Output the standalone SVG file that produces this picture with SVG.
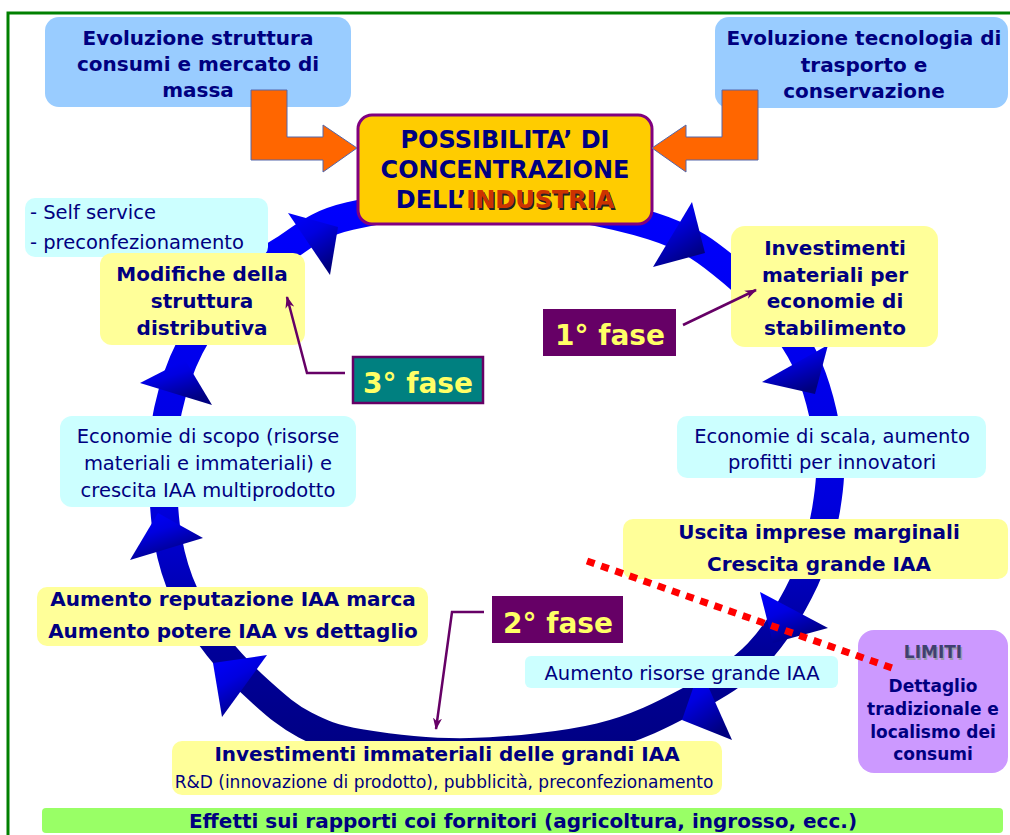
<svg xmlns="http://www.w3.org/2000/svg" width="1010" height="835" viewBox="0 0 1010 835">
  <defs>
    <style>
      .t { font-family: "DejaVu Sans", Verdana, sans-serif; fill: #000080; text-anchor: middle; }
      .b { font-weight: bold; font-size: 20px; }
      .r { font-weight: normal; font-size: 19.5px; }
      .small { font-weight: normal; font-size: 17px; }
      .lim { font-weight: bold; font-size: 17px; }
      .fase { font-family: "DejaVu Sans", Verdana, sans-serif; font-weight: bold; font-size: 28px; fill: #FFFF66; text-anchor: middle; }
      .yel { fill: #FFFF99; }
      .cyan { fill: #CCFFFF; }
      .sky { fill: #99CCFF; }
      .phase { fill: #660066; }
      .feed { fill: #FF6600; stroke: #5566AA; stroke-width: 1; }
      .link { fill: none; stroke: #660066; stroke-width: 2.5; marker-end: url(#tip); }
      .head { fill: url(#headGrad); }
    </style>
    <linearGradient id="ringGrad" gradientUnits="userSpaceOnUse" x1="0" y1="190" x2="0" y2="765">
      <stop offset="0" stop-color="#0000FF"/>
      <stop offset="0.55" stop-color="#0000DD"/>
      <stop offset="0.8" stop-color="#000099"/>
      <stop offset="1" stop-color="#000080"/>
    </linearGradient>
    <linearGradient id="headGrad" x1="0" y1="0" x2="0.5" y2="1">
      <stop offset="0" stop-color="#0000FF"/>
      <stop offset="0.45" stop-color="#0000E0"/>
      <stop offset="1" stop-color="#000080"/>
    </linearGradient>
    <marker id="tip" viewBox="0 0 12 10" refX="11" refY="5" markerWidth="12" markerHeight="10" markerUnits="userSpaceOnUse" orient="auto">
      <path d="M0,0.5 L12,5 L0,9.5 L3.5,5 Z" fill="#660066"/>
    </marker>
  </defs>

  <rect width="1010" height="835" fill="#FFFFFF"/>
  <!-- page frame -->
  <rect x="8" y="13" width="1020" height="840" fill="none" stroke="#008000" stroke-width="3"/>

  <!-- cycle band with arrowheads -->
  <g id="cycle-ring">
    <path fill="none" stroke="url(#ringGrad)" stroke-width="28" d="M500,200 C550.3,201.7 613.2,213.8 652,226 C690.8,238.2 708.3,252.3 733,273 C757.7,293.7 784.2,322.2 800,350 C815.8,377.8 823.7,413.3 828,440 C832.3,466.7 829.8,486.7 826,510 C822.2,533.3 816.3,556.2 805,580 C793.7,603.8 777.2,633 758,653 C738.8,673 716.3,686 690,700 C663.7,714 636.7,728.3 600,737 C563.3,745.7 510,751 470,752 C430,753 387.5,747.5 360,743 C332.5,738.5 321.3,733.3 305,725 C288.7,716.7 276.5,706 262,693 C247.5,680 230.8,663.3 218,647 C205.2,630.7 193.3,612.8 185,595 C176.7,577.2 171.7,560.8 168,540 C164.3,519.2 163,491.7 163,470 C163,448.3 163.5,430.5 168,410 C172.5,389.5 179.7,367 190,347 C200.3,327 214.5,306.2 230,290 C245.5,273.8 263,262.3 283,250 C303,237.7 313.8,224.3 350,216 C386.2,207.7 449.7,198.3 500,200 Z"/>
    <polygon class="head" points="288,213 338,227 330,275"/>
    <polygon class="head" points="692,202 705,253 653,267"/>
    <polygon class="head" points="828,345 815,394 762,382"/>
    <polygon class="head" points="760,592 828,628 773,643"/>
    <polygon class="head" points="700,668 732,740 682,720"/>
    <polygon class="head" points="267,655 222,717 213,663"/>
    <polygon class="head" points="203,538 130,560 158,513"/>
    <polygon class="head" points="212,405 140,383 185,360"/>
  </g>

  <g id="node-consumi">
    <rect class="sky" x="45" y="17" width="306" height="90" rx="14"/>
    <text class="t b" x="198" y="45">Evoluzione struttura</text>
    <text class="t b" x="198" y="71">consumi e mercato di</text>
    <text class="t b" x="198" y="97">massa</text>
  </g>

  <g id="node-trasporto">
    <rect class="sky" x="715" y="17" width="293" height="91" rx="14"/>
    <text class="t b" x="864" y="45">Evoluzione tecnologia di</text>
    <text class="t b" x="864" y="72">trasporto e</text>
    <text class="t b" x="864" y="98">conservazione</text>
  </g>

  <g id="node-concentrazione">
    <rect x="358" y="115" width="294" height="109" rx="14" fill="#FFCC00" stroke="#800080" stroke-width="3"/>
    <text class="t" font-weight="bold" font-size="24" x="505" y="148">POSSIBILITA’ DI</text>
    <text class="t" font-weight="bold" font-size="24" x="505" y="178">CONCENTRAZIONE</text>
    <text class="t" font-weight="bold" font-size="24" x="506.5" y="209.5"><tspan fill="none">DELL’</tspan><tspan fill="#222222">INDUSTRIA</tspan></text>
    <text class="t" font-weight="bold" font-size="24" x="505" y="208">DELL’<tspan fill="#CC3300">INDUSTRIA</tspan></text>
  </g>

  <g id="node-self-service">
    <rect class="cyan" x="25" y="198" width="243" height="59" rx="10"/>
    <text class="t r" text-anchor="start" style="text-anchor:start" x="30" y="219">- Self service</text>
    <text class="t r" style="text-anchor:start" x="30" y="249">- preconfezionamento</text>
  </g>

  <g id="node-modifiche">
    <rect class="yel" x="100" y="253" width="205" height="92" rx="12"/>
    <text class="t b" x="202" y="281">Modifiche della</text>
    <text class="t b" x="202" y="308">struttura</text>
    <text class="t b" x="202" y="335">distributiva</text>
  </g>

  <g id="node-investimenti-materiali">
    <rect class="yel" x="731" y="226" width="207" height="121" rx="14"/>
    <text class="t b" x="835" y="255">Investimenti</text>
    <text class="t b" x="835" y="282">materiali per</text>
    <text class="t b" x="835" y="308">economie di</text>
    <text class="t b" x="835" y="335">stabilimento</text>
  </g>

  <g id="node-fase1">
    <rect class="phase" x="543" y="309" width="133" height="47"/>
    <text class="fase" x="610" y="345">1° fase</text>
  </g>

  <g id="node-fase3">
    <rect x="353" y="357" width="130" height="46" fill="#008080" stroke="#660066" stroke-width="2.5"/>
    <text class="fase" x="418" y="393">3° fase</text>
  </g>

  <g id="node-scala">
    <rect class="cyan" x="677" y="416" width="309" height="62" rx="10"/>
    <text class="t r" x="832" y="443">Economie di scala, aumento</text>
    <text class="t r" x="832" y="469">profitti per innovatori</text>
  </g>

  <g id="node-scopo">
    <rect class="cyan" x="60" y="416" width="296" height="91" rx="12"/>
    <text class="t r" x="208" y="443">Economie di scopo (risorse</text>
    <text class="t r" x="208" y="470">materiali e immateriali) e</text>
    <text class="t r" x="208" y="497">crescita IAA multiprodotto</text>
  </g>

  <g id="node-uscita">
    <rect class="yel" x="623" y="519" width="385" height="60" rx="10"/>
    <text class="t b" x="819" y="539">Uscita imprese marginali</text>
    <text class="t b" x="819" y="571">Crescita grande IAA</text>
  </g>

  <g id="node-fase2">
    <rect class="phase" x="492" y="596" width="131" height="47"/>
    <text class="fase" x="558" y="633">2° fase</text>
  </g>

  <g id="node-reputazione">
    <rect class="yel" x="37" y="587" width="391" height="59" rx="10"/>
    <text class="t b" x="233" y="606">Aumento reputazione IAA marca</text>
    <text class="t b" x="233" y="638">Aumento potere IAA vs dettaglio</text>
  </g>

  <g id="node-risorse">
    <rect class="cyan" x="525" y="656" width="313" height="32" rx="6"/>
    <text class="t r" x="682" y="680">Aumento risorse grande IAA</text>
  </g>

  <g id="node-limiti">
    <rect x="858" y="630" width="150" height="143" rx="16" fill="#CC99FF"/>
    <text class="t lim" x="934.5" y="659.5" fill="#9999AA" style="fill:#9999AA">LIMITI</text>
    <text class="t lim" x="933" y="658" style="fill:#404070">LIMITI</text>
    <text class="t lim" x="933" y="692">Dettaglio</text>
    <text class="t lim" x="933" y="715">tradizionale e</text>
    <text class="t lim" x="933" y="738">localismo dei</text>
    <text class="t lim" x="933" y="760">consumi</text>
  </g>

  <g id="node-immateriali">
    <rect class="yel" x="172" y="741" width="550" height="54" rx="10"/>
    <text class="t b" x="447" y="761">Investimenti immateriali delle grandi IAA</text>
    <text class="t small" x="444" y="788">R&amp;D (innovazione di prodotto), pubblicità, preconfezionamento</text>
  </g>

  <g id="node-fornitori">
    <rect x="42" y="808" width="961" height="25" rx="4" fill="#99FF66"/>
    <text class="t b" x="523" y="828">Effetti sui rapporti coi fornitori (agricoltura, ingrosso, ecc.)</text>
  </g>

  <g id="connectors">
    <polygon class="feed" points="251,90 287,90 287,137 323,137 323,125 357,148 323,172 323,160 251,160"/>
    <polygon class="feed" points="758,90 722,90 722,137 686,137 686,125 652,148 686,172 686,160 758,160"/>
    <line class="link" x1="683" y1="325" x2="756" y2="290"/>
    <polyline class="link" points="345,373 307,373 287,297"/>
    <polyline class="link" points="484,612 452,612 436,729"/>
    <line x1="587" y1="561" x2="895" y2="669" stroke="#FF0000" stroke-width="7" stroke-dasharray="8 7"/>
  </g>
</svg>
